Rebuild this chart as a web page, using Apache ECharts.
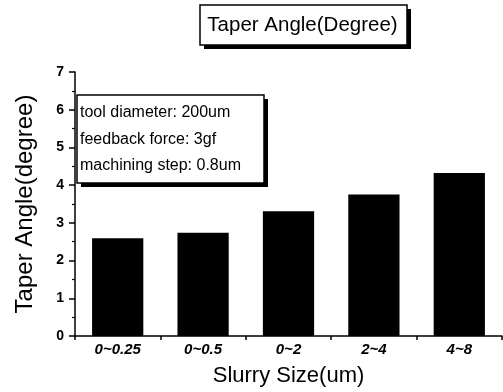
<!DOCTYPE html>
<html>
<head>
<meta charset="utf-8">
<script src="https://cdn.jsdelivr.net/npm/echarts@6/dist/echarts.min.js"></script>
<style>html,body{margin:0;padding:0;background:#fff}#c{width:503px;height:392px}</style>
</head>
<body>
<div id="c"></div>
<script>
const categories = ['0~0.25', '0~0.5', '0~2', '2~4', '4~8'];
const taperAngle = [2.59, 2.74, 3.31, 3.75, 4.32];
const yTicks = [0, 1, 2, 3, 4, 5, 6, 7];
const chartTitle = 'Taper Angle(Degree)';
const noteLines = ['tool diameter: 200um', 'feedback force: 3gf', 'machining step: 0.8um'];
const xName = 'Slurry Size(um)';
const yName = 'Taper Angle(degree)';

const FONT = 'Liberation Sans, Arial, sans-serif';
const chart = echarts.init(document.getElementById('c'), null, {renderer: 'canvas'});
chart.setOption({
  animation: false,
  backgroundColor: '#fff',
  grid: {left: 75, right: 1, top: 72, bottom: 55, containLabel: false},
  xAxis: {
    type: 'category',
    data: categories,
    name: xName,
    nameLocation: 'middle',
    nameGap: 29,
    nameTextStyle: {fontFamily: FONT, fontSize: 22, color: '#000'},
    axisLine: {lineStyle: {color: '#000', width: 1.5}},
    axisTick: {show: true, inside: false, length: 4, alignWithLabel: false, lineStyle: {color: '#000', width: 1.5}},
    axisLabel: {fontFamily: FONT, fontSize: 15, fontStyle: 'italic', fontWeight: 'bold', color: '#000', margin: 6},
    splitLine: {show: false}
  },
  yAxis: {
    type: 'value',
    min: yTicks[0],
    max: yTicks[yTicks.length - 1],
    interval: 1,
    name: yName,
    nameLocation: 'middle',
    nameRotate: 90,
    nameGap: 38,
    nameTextStyle: {fontFamily: FONT, fontSize: 24, color: '#000'},
    axisLine: {show: true, lineStyle: {color: '#000', width: 1.5}},
    axisTick: {show: true, inside: false, length: 6, lineStyle: {color: '#000', width: 1.5}},
    minorTick: {show: true, splitNumber: 2, length: 3, lineStyle: {color: '#000', width: 1.2}},
    axisLabel: {fontFamily: FONT, fontSize: 14, fontWeight: 'bold', color: '#000', margin: 11},
    splitLine: {show: false}
  },
  series: [{
    type: 'bar',
    data: taperAngle,
    barWidth: '60%',
    itemStyle: {color: '#000'}
  }],
  graphic: [
    {type: 'rect', shape: {x: 204, y: 9, width: 207, height: 40}, style: {fill: '#000'}, z: 100},
    {type: 'rect', shape: {x: 200, y: 5, width: 207, height: 40}, style: {fill: '#fff', stroke: '#000', lineWidth: 1.5}, z: 101},
    {type: 'text', x: 302.5, y: 25, style: {text: chartTitle, fontFamily: FONT, fontSize: 20.5, fill: '#000', align: 'center', verticalAlign: 'middle'}, z: 102},
    {type: 'rect', shape: {x: 81, y: 99, width: 187, height: 88}, style: {fill: '#000'}, z: 100},
    {type: 'rect', shape: {x: 77, y: 95, width: 187, height: 88}, style: {fill: '#fff', stroke: '#000', lineWidth: 1.5}, z: 101},
    {type: 'text', x: 80, y: 113, style: {text: noteLines[0], fontFamily: FONT, fontSize: 16, fill: '#000', align: 'left', verticalAlign: 'middle'}, z: 102},
    {type: 'text', x: 80, y: 140, style: {text: noteLines[1], fontFamily: FONT, fontSize: 16, fill: '#000', align: 'left', verticalAlign: 'middle'}, z: 102},
    {type: 'text', x: 80, y: 166, style: {text: noteLines[2], fontFamily: FONT, fontSize: 16, fill: '#000', align: 'left', verticalAlign: 'middle'}, z: 102}
  ]
});
</script>
</body>
</html>
